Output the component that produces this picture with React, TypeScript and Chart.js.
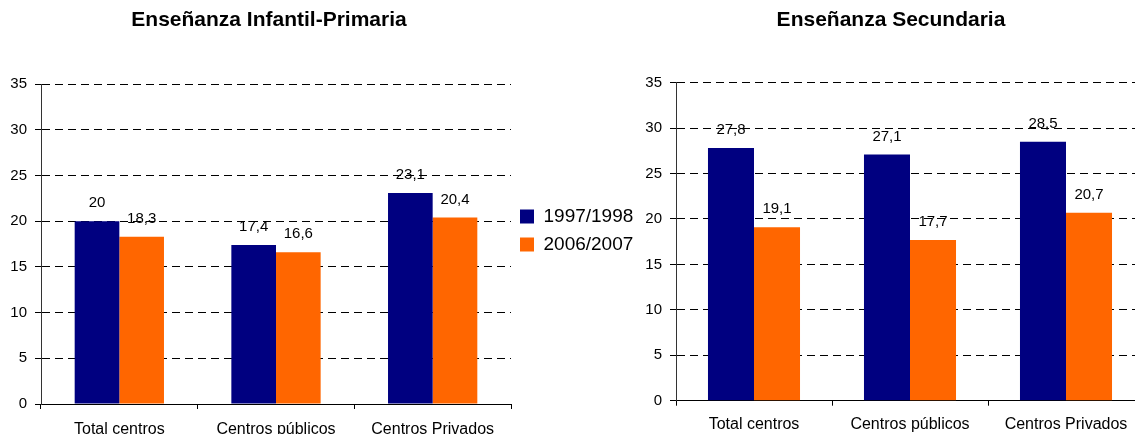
import React, { useEffect, useRef } from 'react';
import { Chart, registerables } from 'chart.js';

Chart.register(...registerables);

const FONT = "'Liberation Sans', Arial, Helvetica, sans-serif";

const categories = ['Total centros', 'Centros públicos', 'Centros Privados'];
const seriesLabels = ['1997/1998', '2006/2007'];
const chartTitles = ['Enseñanza Infantil-Primaria', 'Enseñanza Secundaria'];

const infantil1997 = [20, 17.4, 23.1];
const infantil2006 = [18.3, 16.6, 20.4];
const secundaria1997 = [27.8, 27.1, 28.5];
const secundaria2006 = [19.1, 17.7, 20.7];

const yMin = 0;
const yMax = 35;
const yStep = 5;

const colors = ['#000080', '#FF6600'];

const valueLabelPlugin = {
  id: 'valueLabels',
  afterDatasetsDraw(chart: any) {
    const ctx = chart.ctx;
    ctx.save();
    ctx.font = `15px ${FONT}`;
    ctx.fillStyle = '#000';
    ctx.textAlign = 'center';
    ctx.textBaseline = 'middle';
    chart.data.datasets.forEach((ds: any, i: number) => {
      const meta = chart.getDatasetMeta(i);
      meta.data.forEach((bar: any, j: number) => {
        const v = ds.data[j];
        ctx.fillText(String(v).replace('.', ','), bar.x, bar.y - 18);
      });
    });
    ctx.restore();
  },
};

function makeConfig(opts: {
  title: string;
  a: number[];
  b: number[];
  catPct: number;
  padding: { left: number; right: number; top: number; bottom: number };
  titlePadBottom: number;
  xHeight: number;
  yWidth: number;
  xTickPad: number;
  legend: boolean;
}): any {
  return {
    type: 'bar',
    data: {
      labels: categories,
      datasets: [
        {
          label: seriesLabels[0],
          data: opts.a,
          backgroundColor: colors[0],
          borderWidth: 0,
          categoryPercentage: opts.catPct,
          barPercentage: 1,
        },
        {
          label: seriesLabels[1],
          data: opts.b,
          backgroundColor: colors[1],
          borderWidth: 0,
          categoryPercentage: opts.catPct,
          barPercentage: 1,
        },
      ],
    },
    options: {
      responsive: false,
      animation: false,
      layout: { padding: opts.padding },
      plugins: {
        title: {
          display: true,
          text: opts.title,
          color: '#000',
          fullSize: true,
          font: { family: FONT, size: 21, weight: 'bold' },
          padding: { top: 8, bottom: opts.titlePadBottom },
        },
        legend: {
          display: opts.legend,
          position: 'right',
          fullSize: true,
          align: 'center',
          maxWidth: 128,
          labels: {
            boxWidth: 14,
            boxHeight: 14,
            padding: 9,
            color: '#000',
            font: { family: FONT, size: 19 },
          },
        },
        tooltip: { enabled: false },
      },
      scales: {
        x: {
          grid: {
            display: true,
            drawOnChartArea: false,
            drawTicks: true,
            tickLength: 5,
            color: '#000',
            offset: true,
          },
          border: { display: true, color: '#000', width: 1 },
          ticks: {
            color: '#000',
            font: { family: FONT, size: 16 },
            padding: opts.xTickPad,
            maxRotation: 0,
            autoSkip: false,
          },
          afterFit: (s: any) => {
            s.height = opts.xHeight;
          },
        },
        y: {
          min: yMin,
          max: yMax,
          ticks: {
            stepSize: yStep,
            color: '#000',
            font: { family: FONT, size: 15 },
            padding: 8,
          },
          grid: { color: '#000', tickLength: 6, lineWidth: 1 },
          border: { display: true, color: '#333', width: 1, dash: [8, 5] },
          afterFit: (s: any) => {
            s.width = opts.yWidth;
          },
        },
      },
    },
    plugins: [valueLabelPlugin],
  };
}

export default function App() {
  const leftRef = useRef<HTMLCanvasElement>(null);
  const rightRef = useRef<HTMLCanvasElement>(null);

  useEffect(() => {
    const c1 = new Chart(
      leftRef.current as HTMLCanvasElement,
      makeConfig({
        title: chartTitles[0],
        a: infantil1997,
        b: infantil2006,
        catPct: 0.57,
        padding: { left: 0, right: 0, top: 0, bottom: 0 },
        titlePadBottom: 51,
        xHeight: 57,
        yWidth: 142,
        xTickPad: 11,
        legend: true,
      })
    );
    const c2 = new Chart(
      rightRef.current as HTMLCanvasElement,
      makeConfig({
        title: chartTitles[1],
        a: secundaria1997,
        b: secundaria2006,
        catPct: 0.59,
        padding: { left: 38, right: 16, top: 0, bottom: 0 },
        titlePadBottom: 49.5,
        xHeight: 33.3,
        yWidth: 38,
        xTickPad: 9,
        legend: false,
      })
    );
    return () => {
      c1.destroy();
      c2.destroy();
    };
  }, []);

  return (
    <div
      style={{
        position: 'absolute',
        left: 0,
        top: 0,
        width: 1135,
        height: 434,
        overflow: 'hidden',
        background: '#fff',
      }}
    >
      <canvas ref={leftRef} width={740} height={461} style={{ position: 'absolute', left: -101, top: 0 }} />
      <canvas ref={rightRef} width={560} height={434} style={{ position: 'absolute', left: 600, top: 0 }} />
    </div>
  );
}
